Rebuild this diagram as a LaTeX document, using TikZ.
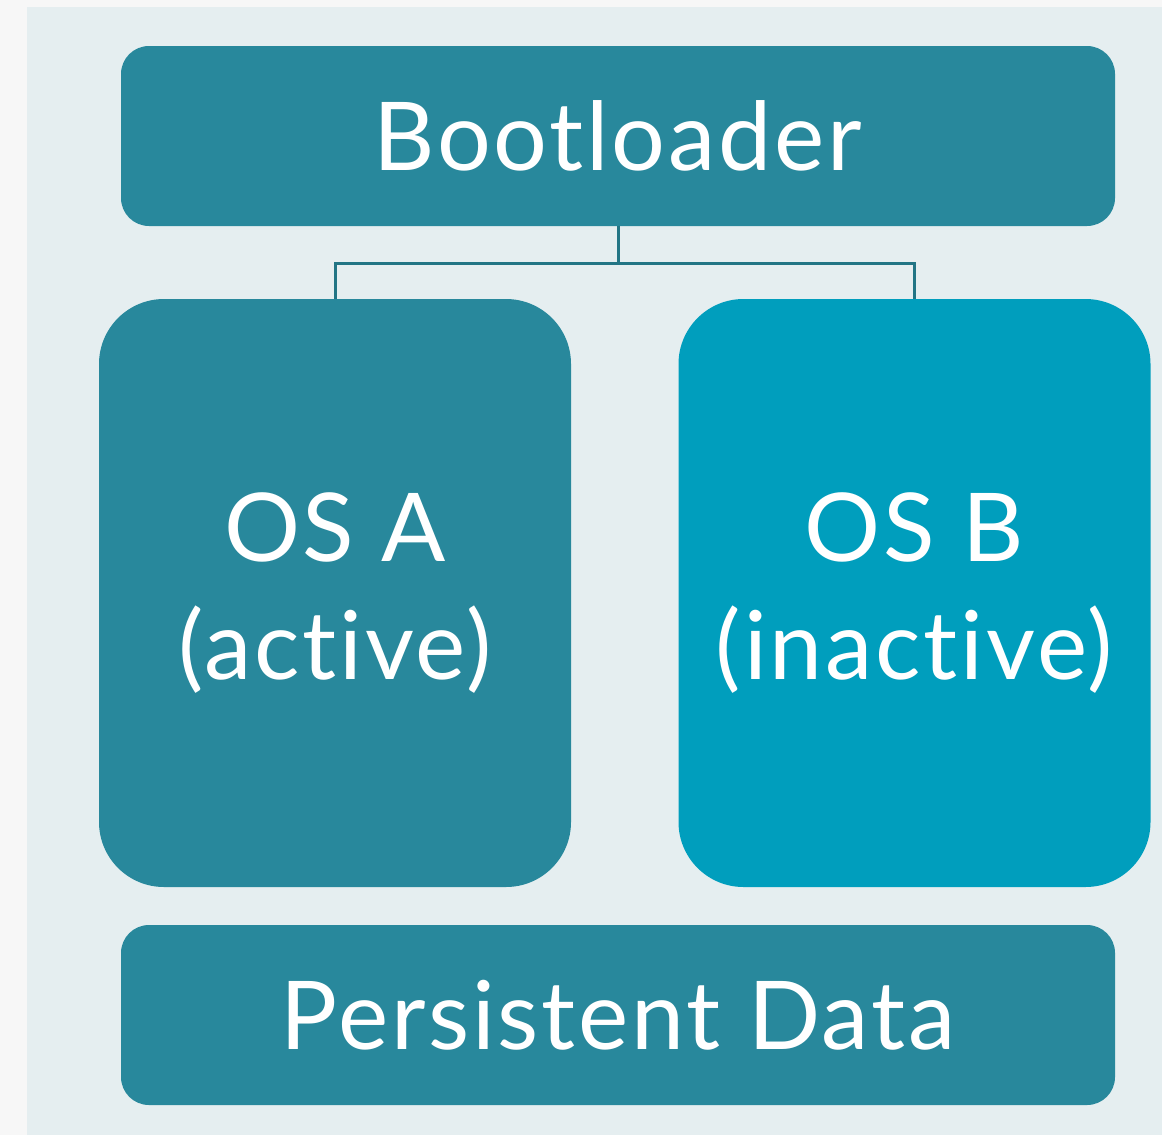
\documentclass[tikz,border=0pt]{standalone}
\usepackage{fontspec}
\setmainfont{Lato}[Ligatures={NoCommon}, LetterSpace=3]
\definecolor{pagebg}{RGB}{247,247,247}
\definecolor{panelbg}{RGB}{229,238,240}
\definecolor{tealA}{RGB}{40,136,156}
\definecolor{tealB}{RGB}{0,158,189}
\definecolor{linkc}{RGB}{34,117,133}
\begin{document}
\begin{tikzpicture}[x=1pt,y=-1pt,
  box/.style={rectangle, fill=tealA, text=white, inner sep=0pt, align=center,
    font=\fontsize{95}{118}\selectfont},
  wide/.style={box, minimum width=994pt, minimum height=180pt, rounded corners=28pt},
  tall/.style={box, minimum width=472pt, minimum height=588pt, rounded corners=65pt},
  link/.style={draw=linkc, line width=3pt}]
\useasboundingbox (0,0) rectangle (1162,1135);
\fill[pagebg] (0,0) rectangle (1162,1135);
\fill[panelbg] (27,7) rectangle (1162,1135);
\node[wide] (boot) at (618,136) {Bootloader};
\node[tall] (osa) at (335,593) {OS A\\(active)};
\node[tall, fill=tealB] (osb) at (914.5,593) {OS B\\(inactive)};
\node[wide] (data) at (618,1015) {Persistent Data};
\coordinate (j) at (618,263);
\draw[link] (boot.south) -- (j);
\draw[link] (j) -| (osa.north);
\draw[link] (j) -| (osb.north);
\end{tikzpicture}
\end{document}
